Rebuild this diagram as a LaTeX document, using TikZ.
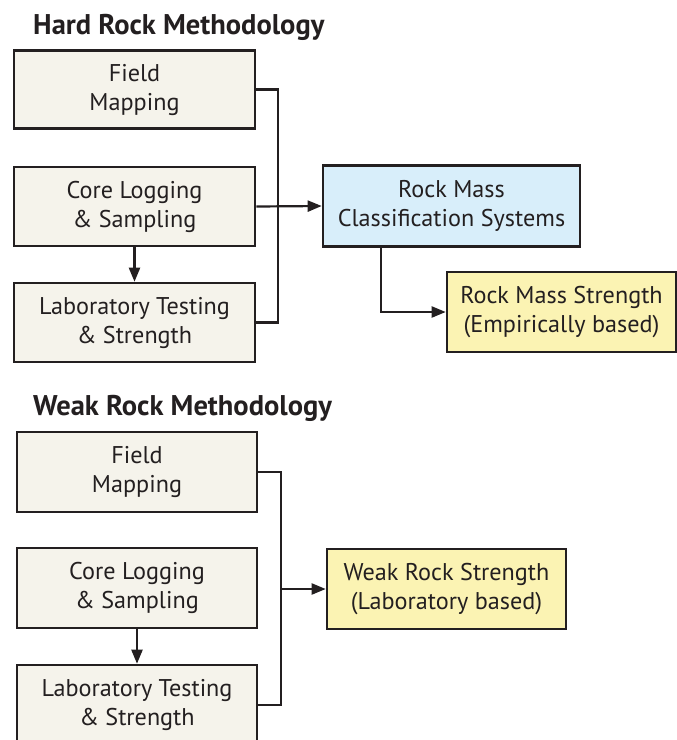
\documentclass[tikz,border=0pt]{standalone}
\usepackage{fontspec}
\setmainfont{PT Sans}
\usetikzlibrary{arrows.meta}
\definecolor{boxfill}{HTML}{F5F3EB}
\definecolor{bluefill}{HTML}{D8EEFA}
\definecolor{yelfill}{HTML}{FBF3B3}
\definecolor{txt}{HTML}{231F20}
\begin{document}
\begin{tikzpicture}[x=1pt,y=-1pt,
  box/.style={draw=txt, line width=2.6pt, fill=boxfill, align=center, inner sep=0pt,
    font=\fontsize{24.2}{29}\selectfont, text=txt},
  ttl/.style={anchor=west, inner sep=0pt, font=\fontsize{28.5}{30}\selectfont\bfseries, text=txt},
  conn/.style={draw=txt, line width=2.2pt},
  arr/.style={conn, -{Triangle[length=14pt,width=11pt]}}]
\useasboundingbox (0,0) rectangle (677,740);
% Hard rock
\node[ttl] (ht) at (33,27) {Hard Rock Methodology};
\node[box, minimum width=241pt, minimum height=78pt] (h1) at (134.5,89.5) {Field\\Mapping};
\node[box, minimum width=241pt, minimum height=79pt] (h2) at (134.5,206.5) {Core Logging\\\& Sampling};
\node[box, minimum width=241pt, minimum height=79pt] (h3) at (134.5,322.5) {Laboratory Testing\\\& Strength};
\node[box, fill=bluefill, minimum width=257pt, minimum height=81pt] (rm) at (451.5,206) {Rock Mass\\Classification Systems};
\node[box, fill=yelfill, minimum width=229pt, minimum height=80pt] (rs) at (561.5,312) {Rock Mass Strength\\(Empirically based)};
\draw[conn] (h1.east) -- ++(22,0) |- (h3.east);
\draw[arr] (h2.east) -- (rm.west);
\draw[arr] (h2.south) -- (h3.north);
\draw[arr] ([xshift=59pt]rm.south west) |- (rs.west);
% Weak rock
\node[ttl] (wt) at (33,408) {Weak Rock Methodology};
\node[box, minimum width=240pt, minimum height=80pt] (w1) at (137,472) {Field\\Mapping};
\node[box, minimum width=240pt, minimum height=80pt] (w2) at (137,588) {Core Logging\\\& Sampling};
\node[box, minimum width=240pt, minimum height=80pt] (w3) at (137,705) {Laboratory Testing\\\& Strength};
\node[box, fill=yelfill, minimum width=239pt, minimum height=80pt] (ws) at (446.5,589) {Weak Rock Strength\\(Laboratory based)};
\coordinate (wb) at (281,589);
\draw[conn] (w1.east) -- (wb |- w1.east) |- (w3.east);
\draw[arr] (wb) -- (ws.west);
\draw[arr] (w2.south) -- (w3.north);
\end{tikzpicture}
\end{document}
